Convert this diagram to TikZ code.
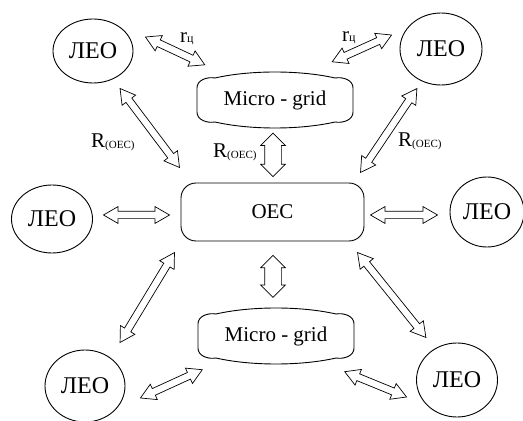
\documentclass[tikz,border=0pt]{standalone}
\usepackage{fontspec}
\setmainfont{Liberation Serif}
\usetikzlibrary{shapes.geometric,shapes.arrows,calc}

\begin{document}
\begin{tikzpicture}[
    x=1pt, y=1pt,
    leo/.style={ellipse, draw, line width=0.9pt, inner sep=0pt, font=\fontsize{24}{26}\selectfont},
    hub/.style={rectangle, draw, line width=0.9pt, rounded corners=15pt, minimum width=183pt, minimum height=58pt, font=\fontsize{21}{24}\selectfont},
    mgbox/.style={rectangle, inner sep=0pt, minimum width=157pt, minimum height=56pt, font=\fontsize{21}{24}\selectfont},
    lbl/.style={anchor=base west, inner sep=0pt, font=\fontsize{21}{24}\selectfont},
    slimarrow/.style={double arrow, draw, fill=white, line width=0.7pt, inner xsep=0pt, inner ysep=3.3pt, double arrow head extend=4.8pt, double arrow tip angle=60},
    fatarrow/.style={double arrow, draw, fill=white, line width=0.7pt, inner xsep=0pt, inner ysep=8pt, double arrow head extend=4pt, double arrow tip angle=90},
    link/.style={to path={let \p1=(\tikztostart), \p2=(\tikztotarget), \n1={atan2(\y2-\y1,\x2-\x1)}, \n2={veclen(\x2-\x1,\y2-\y1)} in node[#1, rotate=\n1, minimum height=\n2] at ($(\p1)!0.5!(\p2)$) {}}},
    link/.default=slimarrow
]
\useasboundingbox (0,0) rectangle (523,421);

% Energy system and micro-grids
\node[hub] (oec) at (272.5,209) {ОЕС};
\node[mgbox] (mgTop) at (275,321) {Micro - grid};
\node[mgbox] (mgBot) at (276,85) {Micro - grid};
\foreach \g in {mgTop,mgBot}
    \draw[line width=0.9pt, shift={(\g.center)}] (-78,12) -- (-78,-12) to[out=-90,in=190] (-60,-22)
        .. controls (-25,-30) and (25,-30) .. (60,-22) to[out=-10,in=-90] (78,-12) -- (78,12)
        to[out=90,in=10] (60,22) .. controls (25,30) and (-25,30) .. (-60,22) to[out=170,in=90] (-78,12) -- cycle;

% LEO nodes
\node[leo, minimum width=80pt, minimum height=64pt] (leoTL) at (93,370) {ЛЕО};
\node[leo, minimum width=82pt, minimum height=72pt] (leoTR) at (441,372) {ЛЕО};
\node[leo, minimum width=81pt, minimum height=68pt] (leoML) at (52,202) {ЛЕО};
\node[leo, minimum width=74pt, minimum height=70pt] (leoMR) at (487,209) {ЛЕО};
\node[leo, minimum width=80pt, minimum height=72pt] (leoBL) at (85,35) {ЛЕО};
\node[leo, minimum width=81pt, minimum height=74pt] (leoBR) at (457,41) {ЛЕО};

% Labels
\node[lbl] (rTL) at (180,378) {r{\fontsize{12}{12}\selectfont ц}};
\node[lbl] (rTR) at (342,379) {r{\fontsize{12}{12}\selectfont ц}};
\node[lbl] (rOecL) at (91,273) {R\raisebox{-1pt}{\fontsize{11}{12}\selectfont (ОЕС)}};
\node[lbl] (rOecM) at (213,263) {R\raisebox{-1pt}{\fontsize{11}{12}\selectfont (ОЕС)}};
\node[lbl] (rOecR) at (398,274) {R\raisebox{-1pt}{\fontsize{11}{12}\selectfont (ОЕС)}};

% Arrows
\draw ([shift={(12,14)}]leoTL.east) to[link] ([shift={(8.5,7)}]mgTop.north west);
\draw ([shift={(-21.5,10)}]mgTop.north east) to[link] ([shift={(-8,14)}]leoTR.west);
\draw ([shift={(27,-5)}]leoTL.south) to[link] ([shift={(-1,15)}]oec.north west);
\draw ([shift={(-24,-3)}]leoTR.south) to[link] ([shift={(-4,10)}]oec.north east);
\draw ([shift={(-2,-5)}]mgTop.south) to[link=fatarrow] ([shift={(0.5,6)}]oec.north);
\draw ([shift={(10.5,4)}]leoML.east) to[link] ([shift={(-11,-3)}]oec.west);
\draw ([shift={(6,-3)}]oec.east) to[link] ([shift={(-12,-3)}]leoMR.west);
\draw ([shift={(-6,-11)}]oec.south west) to[link] ([shift={(35,7)}]leoBL.north);
\draw ([shift={(0.5,-14)}]oec.south) to[link=fatarrow] ([shift={(-3,10.5)}]mgBot.north);
\draw ([shift={(-7,-11)}]oec.south east) to[link] ([shift={(-31,5)}]leoBR.north);
\draw ([shift={(15,-12)}]leoBL.east) to[link] ([shift={(5,-5.5)}]mgBot.south west);
\draw ([shift={(-10,-7.5)}]mgBot.south east) to[link] ([shift={(-9.5,-17)}]leoBR.west);

\end{tikzpicture}
\end{document}
